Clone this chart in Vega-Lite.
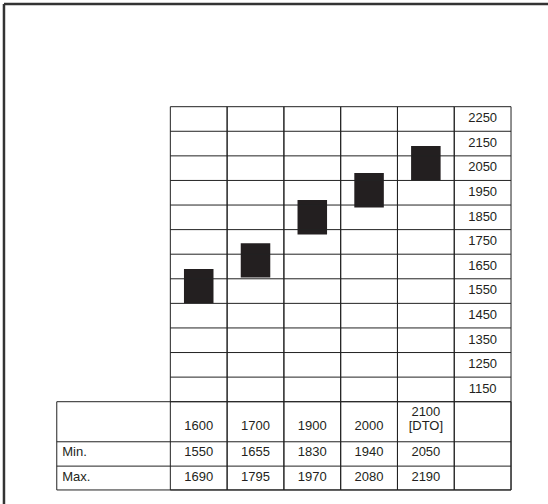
{
  "$schema": "https://vega.github.io/schema/vega-lite/v6.json",
  "width": 548,
  "height": 504,
  "padding": 0,
  "autosize": "none",
  "background": "#ffffff",
  "config": {
    "view": {"stroke": null},
    "text": {"font": "Liberation Sans", "fontSize": 13, "fill": "#231f20", "baseline": "alphabetic"},
    "rule": {"stroke": "#222222", "strokeWidth": 1}
  },
  "datasets": {
    "periods": [
      {"year": "1600", "tag": "", "min": 1550, "max": 1690},
      {"year": "1700", "tag": "", "min": 1655, "max": 1795},
      {"year": "1900", "tag": "", "min": 1830, "max": 1970},
      {"year": "2000", "tag": "", "min": 1940, "max": 2080},
      {"year": "2100", "tag": "[DTO]", "min": 2050, "max": 2190}
    ],
    "levels": [
      {"v": 1150}, {"v": 1250}, {"v": 1350}, {"v": 1450},
      {"v": 1550}, {"v": 1650}, {"v": 1750}, {"v": 1850},
      {"v": 1950}, {"v": 2050}, {"v": 2150}, {"v": 2250}
    ]
  },
  "layer": [
    {
      "data": {"name": "periods"},
      "mark": {"type": "bar", "color": "#231f20", "width": {"band": 0.52}},
      "encoding": {
        "x": {
          "field": "year", "type": "nominal", "axis": null,
          "scale": {
            "domain": ["_pad", "_lab1", "_lab2", "1600", "1700", "1900", "2000", "2100", "_scale", "_end"],
            "range": [0, 567.8], "paddingInner": 0, "paddingOuter": 0
          }
        },
        "y": {
          "field": "min", "type": "quantitative", "axis": null,
          "scale": {"domain": [733.9, 2784], "nice": false, "zero": false}
        },
        "y2": {"field": "max"}
      }
    },
    {
      "data": {"name": "periods"},
      "mark": {"type": "rect", "filled": false, "color": "#222222", "strokeWidth": 1},
      "encoding": {
        "x": {"field": "year", "type": "nominal"},
        "y": {"datum": 2350, "type": "quantitative"},
        "y2": {"datum": 791}
      }
    },
    {
      "data": {"values": [{}]},
      "mark": {"type": "rect", "filled": false, "color": "#222222", "strokeWidth": 1},
      "encoding": {
        "x": {"datum": "_scale", "type": "nominal"},
        "y": {"datum": 2350, "type": "quantitative"},
        "y2": {"datum": 791}
      }
    },
    {
      "data": {"values": [{}]},
      "mark": {"type": "rect", "filled": false, "color": "#222222", "strokeWidth": 1},
      "encoding": {
        "x": {"datum": "_lab1", "type": "nominal", "bandPosition": 0},
        "x2": {"datum": "_end", "bandPosition": 0},
        "y": {"datum": 1150, "type": "quantitative"},
        "y2": {"datum": 791}
      }
    },
    {
      "data": {"name": "levels"},
      "mark": {"type": "rule"},
      "encoding": {
        "x": {"datum": "1600", "type": "nominal", "bandPosition": 0},
        "x2": {"datum": "_end", "bandPosition": 0},
        "y": {"field": "v", "type": "quantitative"}
      }
    },
    {
      "data": {"values": [{}]},
      "mark": {"type": "rule"},
      "encoding": {
        "x": {"datum": "_lab1", "type": "nominal", "bandPosition": 0},
        "x2": {"datum": "_end", "bandPosition": 0},
        "y": {"datum": 987, "type": "quantitative"}
      }
    },
    {
      "data": {"values": [{}]},
      "mark": {"type": "rule"},
      "encoding": {
        "x": {"datum": "_lab1", "type": "nominal", "bandPosition": 0},
        "x2": {"datum": "_end", "bandPosition": 0},
        "y": {"datum": 888, "type": "quantitative"}
      }
    },
    {
      "data": {"name": "levels"},
      "mark": {"type": "text", "dy": -9},
      "encoding": {
        "x": {"datum": "_scale", "type": "nominal"},
        "y": {"field": "v", "type": "quantitative"},
        "text": {"field": "v", "type": "quantitative", "format": "d"}
      }
    },
    {
      "data": {"name": "periods"},
      "transform": [{"filter": "datum.tag == ''"}],
      "mark": {"type": "text"},
      "encoding": {
        "x": {"field": "year", "type": "nominal"},
        "y": {"datum": 1035, "type": "quantitative"},
        "text": {"field": "year", "type": "nominal"}
      }
    },
    {
      "data": {"name": "periods"},
      "transform": [{"filter": "datum.tag != ''"}],
      "mark": {"type": "text"},
      "encoding": {
        "x": {"field": "year", "type": "nominal"},
        "y": {"datum": 1092, "type": "quantitative"},
        "text": {"field": "year", "type": "nominal"}
      }
    },
    {
      "data": {"name": "periods"},
      "transform": [{"filter": "datum.tag != ''"}],
      "mark": {"type": "text"},
      "encoding": {
        "x": {"field": "year", "type": "nominal"},
        "y": {"datum": 1035, "type": "quantitative"},
        "text": {"field": "tag", "type": "nominal"}
      }
    },
    {
      "data": {"name": "periods"},
      "mark": {"type": "text"},
      "encoding": {
        "x": {"field": "year", "type": "nominal"},
        "y": {"datum": 929, "type": "quantitative"},
        "text": {"field": "min", "type": "quantitative", "format": "d"}
      }
    },
    {
      "data": {"name": "periods"},
      "mark": {"type": "text"},
      "encoding": {
        "x": {"field": "year", "type": "nominal"},
        "y": {"datum": 829, "type": "quantitative"},
        "text": {"field": "max", "type": "quantitative", "format": "d"}
      }
    },
    {
      "data": {"values": [{}]},
      "mark": {"type": "text", "align": "left", "dx": 5.5},
      "encoding": {
        "x": {"datum": "_lab1", "type": "nominal", "bandPosition": 0},
        "y": {"datum": 929, "type": "quantitative"},
        "text": {"value": "Min."}
      }
    },
    {
      "data": {"values": [{}]},
      "mark": {"type": "text", "align": "left", "dx": 5.5},
      "encoding": {
        "x": {"datum": "_lab1", "type": "nominal", "bandPosition": 0},
        "y": {"datum": 829, "type": "quantitative"},
        "text": {"value": "Max."}
      }
    },
    {
      "data": {"values": [{}]},
      "mark": {"type": "rule", "stroke": "#333333", "strokeWidth": 2.5},
      "encoding": {
        "x": {"datum": "_pad", "type": "nominal", "bandPosition": 0.07},
        "x2": {"datum": "_end", "bandPosition": 1},
        "y": {"datum": 2768, "type": "quantitative"}
      }
    },
    {
      "data": {"values": [{}]},
      "mark": {"type": "rule", "stroke": "#333333", "strokeWidth": 2.5},
      "encoding": {
        "x": {"datum": "_pad", "type": "nominal", "bandPosition": 0.07},
        "y": {"datum": 2768, "type": "quantitative"},
        "y2": {"datum": 733.9}
      }
    }
  ]
}
